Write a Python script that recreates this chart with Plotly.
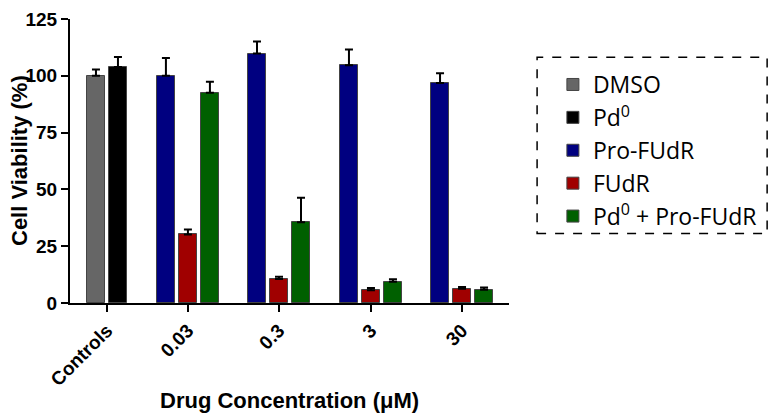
import plotly.graph_objects as go

# data
groups = ["Controls", "0.03", "0.3", "3", "30"]
series = ["DMSO", "Pd<sup>0</sup>", "Pro-FUdR", "FUdR", "Pd<sup>0</sup> + Pro-FUdR"]
colors = ["#666666", "#000000", "#000080", "#a00000", "#006000"]

dmso_val = [100.0]
dmso_err = [2.8]
pd_val = [103.9]
pd_err = [4.4]
pro_val = [100.0, 109.8, 104.6, 96.8]
pro_err = [7.8, 5.3, 7.0, 4.3]
fudr_val = [30.2, 10.6, 5.6, 6.3]
fudr_err = [2.1, 1.0, 1.0, 0.7]
combo_val = [92.5, 35.5, 9.3, 5.8]
combo_err = [4.9, 10.8, 1.2, 1.0]

# layout: group centre positions on a numeric x axis (one unit = one bar slot)
group_pos = [1.68, 5.36, 9.5, 13.68, 17.82]

fig = go.Figure()

traces = [
    (dmso_val, dmso_err, [group_pos[0] - 0.5]),
    (pd_val, pd_err, [group_pos[0] + 0.5]),
    (pro_val, pro_err, [p - 1 for p in group_pos[1:]]),
    (fudr_val, fudr_err, list(group_pos[1:])),
    (combo_val, combo_err, [p + 1 for p in group_pos[1:]]),
]

for i, (name, color, (vals, errs, xs)) in enumerate(zip(series, colors, traces)):
    fig.add_trace(go.Bar(
        x=xs, y=vals, name=name, width=0.8, legendgroup=f"g{i}",
        marker=dict(color=color, line=dict(color="#444444", width=1)),
        error_y=dict(type="data", array=errs, arrayminus=[0] * len(errs),
                     symmetric=False, color="black", thickness=2, width=4),
    ))

font_name = "Liberation Sans, Arial"
title_font = dict(family=font_name, size=22, color="black")

fig.update_xaxes(
    range=[0, 439 / 22], tickvals=group_pos, ticktext=groups, tickangle=-45,
    showline=True, linecolor="black", linewidth=2, ticks="outside",
    ticklen=7, tickwidth=2, tickcolor="black", showgrid=False, zeroline=False,
    automargin=False,
    tickfont=dict(family=font_name, size=19, color="black", weight="bold"),
)
fig.update_yaxes(
    range=[0, 125], tickvals=[0, 25, 50, 75, 100, 125],
    showline=True, linecolor="black", linewidth=2, ticks="outside",
    ticklen=7, tickwidth=2, tickcolor="black", showgrid=False, zeroline=False,
    automargin=False, ticklabeloverflow="allow",
    tickfont=dict(family=font_name, size=19, color="black", weight="bold"),
)

# axis titles
fig.add_annotation(text="<b>Cell Viability (%)</b>", xref="paper", yref="paper",
                   x=0, y=0.5, xshift=-51, textangle=-90, showarrow=False,
                   xanchor="center", yanchor="middle", font=title_font)
fig.add_annotation(text="<b>Drug Concentration (μM)</b>", xref="paper", yref="paper",
                   x=0.5, y=0, yshift=-97, showarrow=False,
                   xanchor="center", yanchor="middle", font=title_font)

# dashed frame around the legend
fig.add_shape(type="rect", xref="paper", yref="paper",
              x0=1.064, x1=1.588, y0=0.245, y1=0.865,
              line=dict(color="black", width=1.5, dash="dash"))

# the page adds an 8px body margin, so the margins are shifted to compensate
fig.update_layout(
    width=780, height=417,
    margin=dict(l=62, r=279, t=11, b=122, autoexpand=False),
    plot_bgcolor="white", paper_bgcolor="white",
    barmode="overlay", bargap=0,
    showlegend=True,
    legend=dict(x=1.10, y=0.845, xanchor="left", yanchor="top",
                font=dict(family="Open Sans, Noto Sans", size=23, color="black"),
                bgcolor="rgba(0,0,0,0)", tracegroupgap=0),
)

fig.write_html("out.html")
